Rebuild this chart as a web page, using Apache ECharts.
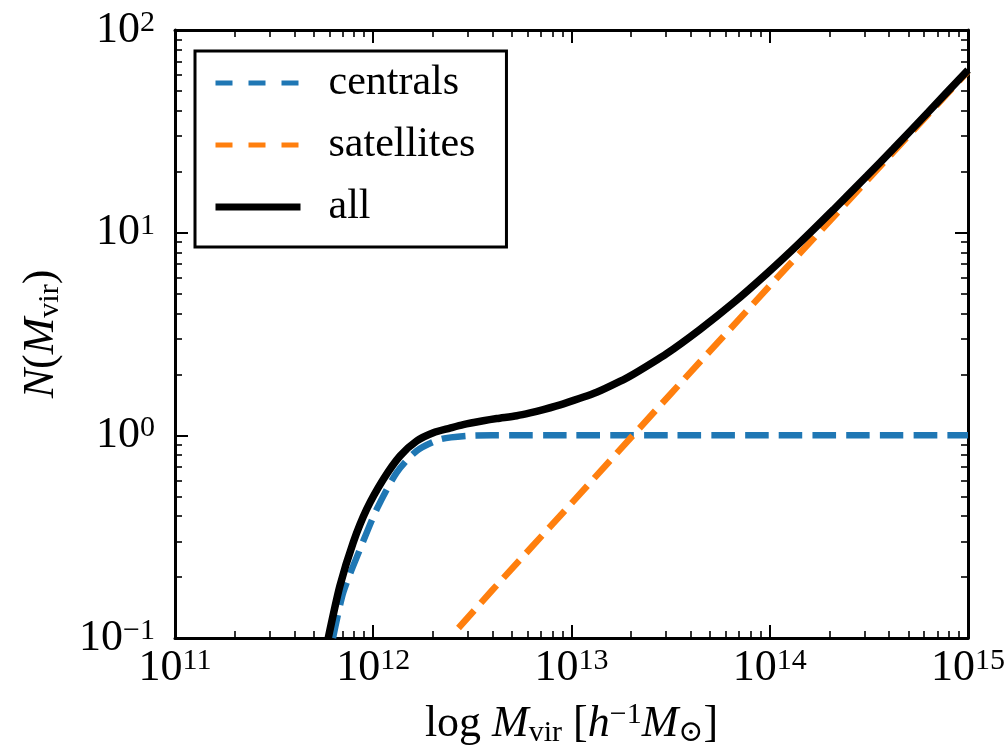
<!DOCTYPE html>
<html>
<head>
<meta charset="utf-8">
<title>Halo occupation</title>
<script src="https://cdn.jsdelivr.net/npm/echarts@6/dist/echarts.min.js"></script>
<style>
  html, body { margin: 0; padding: 0; background: #fff; }
  #chart { width: 1006px; height: 754px; }
</style>
</head>
<body>
<div id="chart"></div>
<script>
// Mean occupation of haloes: central, satellite and total counts vs halo mass.
// Masses are stored as log10(M / h^-1 Msun); occupations as N.

const centralsLogM = [11.797, 11.849, 11.933, 12.017, 12.118, 12.219, 12.337, 12.471, 12.6, 13.0, 13.5, 14.0, 14.5, 15.0];
const centralsN    = [0.100, 0.168, 0.274, 0.431, 0.655, 0.838, 0.955, 0.993, 1.0, 1.0, 1.0, 1.0, 1.0, 1.0];

const satellitesLogM = [12.43, 12.6, 12.8, 13.0, 13.31, 13.5, 14.0, 14.32, 14.5, 15.0];
const satellitesN    = [0.112, 0.172, 0.282, 0.462, 1.0, 1.6, 5.47, 11.9, 18.5, 62.5];

const allLogM = [11.773, 11.832, 11.899, 11.967, 12.051, 12.135, 12.219, 12.303, 12.387, 12.454, 12.555, 12.623,
                 12.724, 12.791, 12.858, 12.959, 13.127, 13.261, 13.312, 13.480, 13.648, 13.816, 13.985, 14.153,
                 14.321, 14.489, 14.623, 14.80, 15.0];
const allN    = [0.100, 0.181, 0.296, 0.432, 0.607, 0.791, 0.938, 1.03, 1.086, 1.13, 1.18, 1.21,
                 1.25, 1.29, 1.34, 1.43, 1.63, 1.88, 2.0, 2.53, 3.33, 4.50, 6.28, 8.94,
                 12.97, 19.0, 25.9, 39.4, 63.5];

// axis ranges and tick layout
const xRange = [1e11, 1e15];
const yRange = [1e-1, 1e2];
const xDecades = [11, 12, 13, 14];
const yDecades = [-1, 0, 1];
const minorMultipliers = [2, 3, 4, 5, 6, 7, 8, 9];

function minorTicks(decades) {
  const out = [];
  decades.forEach(d => minorMultipliers.forEach(k => out.push(k * Math.pow(10, d))));
  return out;
}

const toPairs = (logM, N) => logM.map((m, i) => [Math.pow(10, m), N[i]]);

const SERIF = "'Liberation Serif', 'DejaVu Serif', serif";
const BLUE = '#1f77b4';
const ORANGE = '#ff7f0e';

const tickRich = {
  b: { fontFamily: SERIF, fontSize: 44, lineHeight: 44, color: '#000', verticalAlign: 'bottom' },
  s: { fontFamily: SERIF, fontSize: 30, lineHeight: 26, color: '#000', verticalAlign: 'top' }
};
function powerLabel(v) {
  const e = Math.round(Math.log10(v));
  return '{b|10}{s|' + (e < 0 ? '\u2212' + (-e) : e) + '}';
}

const titleRich = {
  n:   { fontFamily: SERIF, fontSize: 44, lineHeight: 48, color: '#000', verticalAlign: 'middle' },
  i:   { fontFamily: SERIF, fontSize: 44, lineHeight: 48, color: '#000', fontStyle: 'italic', verticalAlign: 'middle' },
  sub: { fontFamily: SERIF, fontSize: 30, lineHeight: 22, color: '#000', verticalAlign: 'bottom' },
  sup: { fontFamily: SERIF, fontSize: 30, lineHeight: 28, color: '#000', verticalAlign: 'top' }
};

const spine = { show: true, onZero: false, lineStyle: { color: '#000', width: 3 } };

function majorAxis(range, pos, withLabels, extra) {
  return Object.assign({
    type: 'log', logBase: 10, min: range[0], max: range[1], position: pos,
    axisLine: spine,
    axisTick: { show: true, inside: true, length: 13, lineStyle: { color: '#000', width: 2 } },
    axisLabel: withLabels
      ? { show: true, formatter: powerLabel, rich: tickRich, showMinLabel: true, showMaxLabel: true }
      : { show: false },
    splitLine: { show: false }, minorTick: { show: false }, minorSplitLine: { show: false }
  }, extra || {});
}

function minorAxis(range, pos, values) {
  return {
    type: 'log', logBase: 10, min: range[0], max: range[1], position: pos,
    axisLine: { show: false, onZero: false },
    axisTick: { show: true, inside: true, length: 7, customValues: values, lineStyle: { color: '#000', width: 1.6 } },
    axisLabel: { show: false },
    splitLine: { show: false }
  };
}

const chart = echarts.init(document.getElementById('chart'), null, { renderer: 'canvas' });

chart.setOption({
  backgroundColor: '#fff',
  animation: false,
  grid: { left: 175, right: 38, top: 30, bottom: 116, containLabel: false, outerBoundsMode: 'none' },
  xAxis: [
    majorAxis(xRange, 'bottom', true, {
      axisLabel: { show: true, formatter: powerLabel, rich: tickRich, margin: 8, showMinLabel: true, showMaxLabel: true },
      name: '{n|log }{i|M}{sub|vir}{n| [}{i|h}{sup|\u22121}{i|M}{sub|\u2299}{n|]}',
      nameLocation: 'middle', nameGap: 62,
      nameTextStyle: { rich: titleRich }
    }),
    minorAxis(xRange, 'bottom', minorTicks(xDecades)),
    majorAxis(xRange, 'top', false),
    minorAxis(xRange, 'top', minorTicks(xDecades))
  ],
  yAxis: [
    majorAxis(yRange, 'left', true, {
      axisLabel: { show: true, formatter: powerLabel, rich: tickRich, margin: 20, showMinLabel: true, showMaxLabel: true },
      name: '{i|N}{n|(}{i|M}{sub|vir}{n|)}',
      nameLocation: 'middle', nameGap: 110, nameRotate: 90,
      nameTextStyle: { rich: titleRich }
    }),
    minorAxis(yRange, 'left', minorTicks(yDecades)),
    majorAxis(yRange, 'right', false),
    minorAxis(yRange, 'right', minorTicks(yDecades))
  ],
  legend: {
    orient: 'vertical',
    left: 195, top: 51,
    backgroundColor: '#fff',
    borderColor: '#000', borderWidth: 3, borderRadius: 0,
    padding: [9, 31, 17, 17],
    itemWidth: 85, itemHeight: 20, itemGap: 16,
    itemStyle: { opacity: 0 },
    textStyle: { fontFamily: SERIF, fontSize: 42, lineHeight: 46, color: '#000', padding: [0, 0, 0, 23] },
    data: [
      { name: 'centrals', lineStyle: { type: [17, 16], width: 5 } },
      { name: 'satellites', lineStyle: { type: [17, 16], width: 5 } },
      { name: 'all', lineStyle: { width: 7 } }
    ]
  },
  series: [
    {
      name: 'centrals', type: 'line', xAxisIndex: 0, yAxisIndex: 0,
      data: toPairs(centralsLogM, centralsN),
      symbol: 'none', smooth: 0.25, z: 3,
      itemStyle: { color: BLUE },
      lineStyle: { color: BLUE, width: 6.5, type: [23.5, 10.2] }
    },
    {
      name: 'satellites', type: 'line', xAxisIndex: 0, yAxisIndex: 0,
      data: toPairs(satellitesLogM, satellitesN),
      symbol: 'none', smooth: false, z: 4,
      itemStyle: { color: ORANGE },
      lineStyle: { color: ORANGE, width: 6.5, type: [23.5, 10.2] }
    },
    {
      name: 'all', type: 'line', xAxisIndex: 0, yAxisIndex: 0,
      data: toPairs(allLogM, allN),
      symbol: 'none', smooth: 0.25, z: 5,
      itemStyle: { color: '#000' },
      lineStyle: { color: '#000', width: 7.5 }
    }
  ]
});
</script>
</body>
</html>
